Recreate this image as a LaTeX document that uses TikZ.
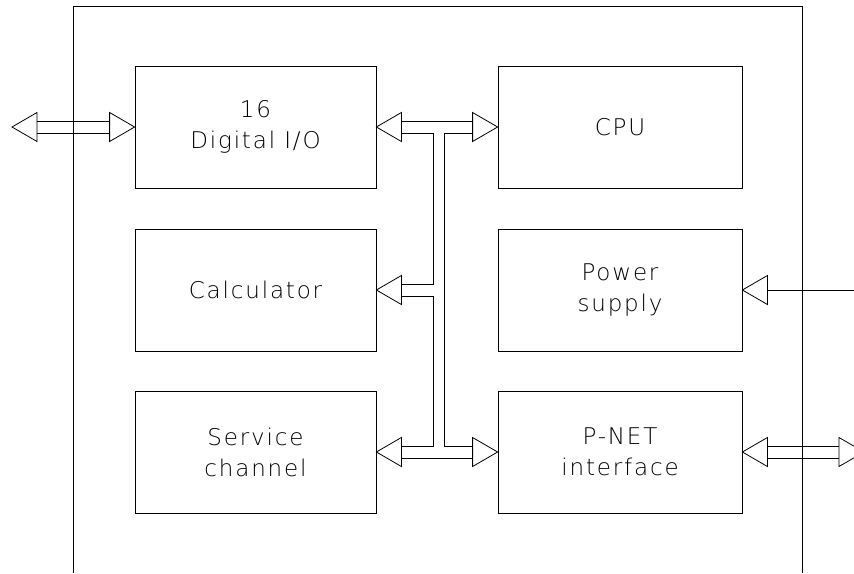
\documentclass[tikz,border=0pt]{standalone}
\usepackage{fontspec}
\setmainfont{DejaVu Sans}
\newfontfamily\cadfont[LetterSpace=8]{DejaVu Sans ExtraLight}
\usetikzlibrary{calc}
\begin{document}
\begin{tikzpicture}[x=1pt,y=-1pt,line width=0.8pt,line join=miter,
  blk/.style={draw,minimum height=122pt,inner sep=0pt,align=center,
    font=\cadfont\fontsize{23}{31}\selectfont},
  lblk/.style={blk,minimum width=241pt},
  rblk/.style={blk,minimum width=244pt}]
\useasboundingbox (0,0) rectangle (854,573);
\clip (0,0) rectangle (854,573);
% frame
\draw (73,573) -- (73,6) -- (802,6) -- (802,573);
% blocks
\node[lblk] (dio)  at (255.5,127) {16\\Digital I/O};
\node[rblk] (cpu)  at (620,127) {CPU};
\node[lblk] (calc) at (255.5,290) {Calculator};
\node[rblk] (psu)  at (620,290) {Power\\supply};
\node[lblk] (svc)  at (255.5,452) {Service\\channel};
\node[rblk] (pnet) at (620,452) {P-NET\\interface};
% external coordinates
\coordinate (extL) at (12,127);
\coordinate (extR) at (864,452);
\coordinate (pwrin) at (854,290);
% left external double arrow
\draw (extL) -- ++(25,-14.5) -- ++(0,29) -- cycle;
\draw (dio.west) -- ++(-25,-14.5) -- ++(0,29) -- cycle;
\draw ($(extL)+(25,-6)$) -- ($(dio.west)+(-25,-6)$);
\draw ($(extL)+(25,6)$) -- ($(dio.west)+(-25,6)$);
% internal bus heads
\draw (dio.east) -- ++(25,-14.5) -- ++(0,29) -- cycle;
\draw (cpu.west) -- ++(-25,-14.5) -- ++(0,29) -- cycle;
\draw (calc.east) -- ++(25,-14.5) -- ++(0,29) -- cycle;
\draw (svc.east) -- ++(25,-14.5) -- ++(0,29) -- cycle;
\draw (pnet.west) -- ++(-25,-14.5) -- ++(0,29) -- cycle;
% internal bus lines
\draw ($(dio.east)+(25,-6)$) -- ($(cpu.west)+(-25,-6)$);
\draw ($(dio.east)+(25,6)$) -- (433,133) -- (433,284) -- ($(calc.east)+(25,-6)$);
\draw ($(calc.east)+(25,6)$) -- (433,296) -- (433,446) -- ($(svc.east)+(25,-6)$);
\draw ($(cpu.west)+(-25,6)$) -- (444,133) -- (444,446) -- ($(pnet.west)+(-25,-6)$);
\draw ($(svc.east)+(25,6)$) -- ($(pnet.west)+(-25,6)$);
% power supply input
\draw (psu.east) -- ++(25,-14.5) -- ++(0,29) -- cycle;
\draw ($(psu.east)+(25,0)$) -- (pwrin);
% P-NET external double arrow
\draw (pnet.east) -- ++(25,-14.5) -- ++(0,29) -- cycle;
\draw (extR) -- ++(-25,-14.5) -- ++(0,29) -- cycle;
\draw ($(pnet.east)+(25,-6)$) -- ($(extR)+(-25,-6)$);
\draw ($(pnet.east)+(25,6)$) -- ($(extR)+(-25,6)$);
\end{tikzpicture}
\end{document}
